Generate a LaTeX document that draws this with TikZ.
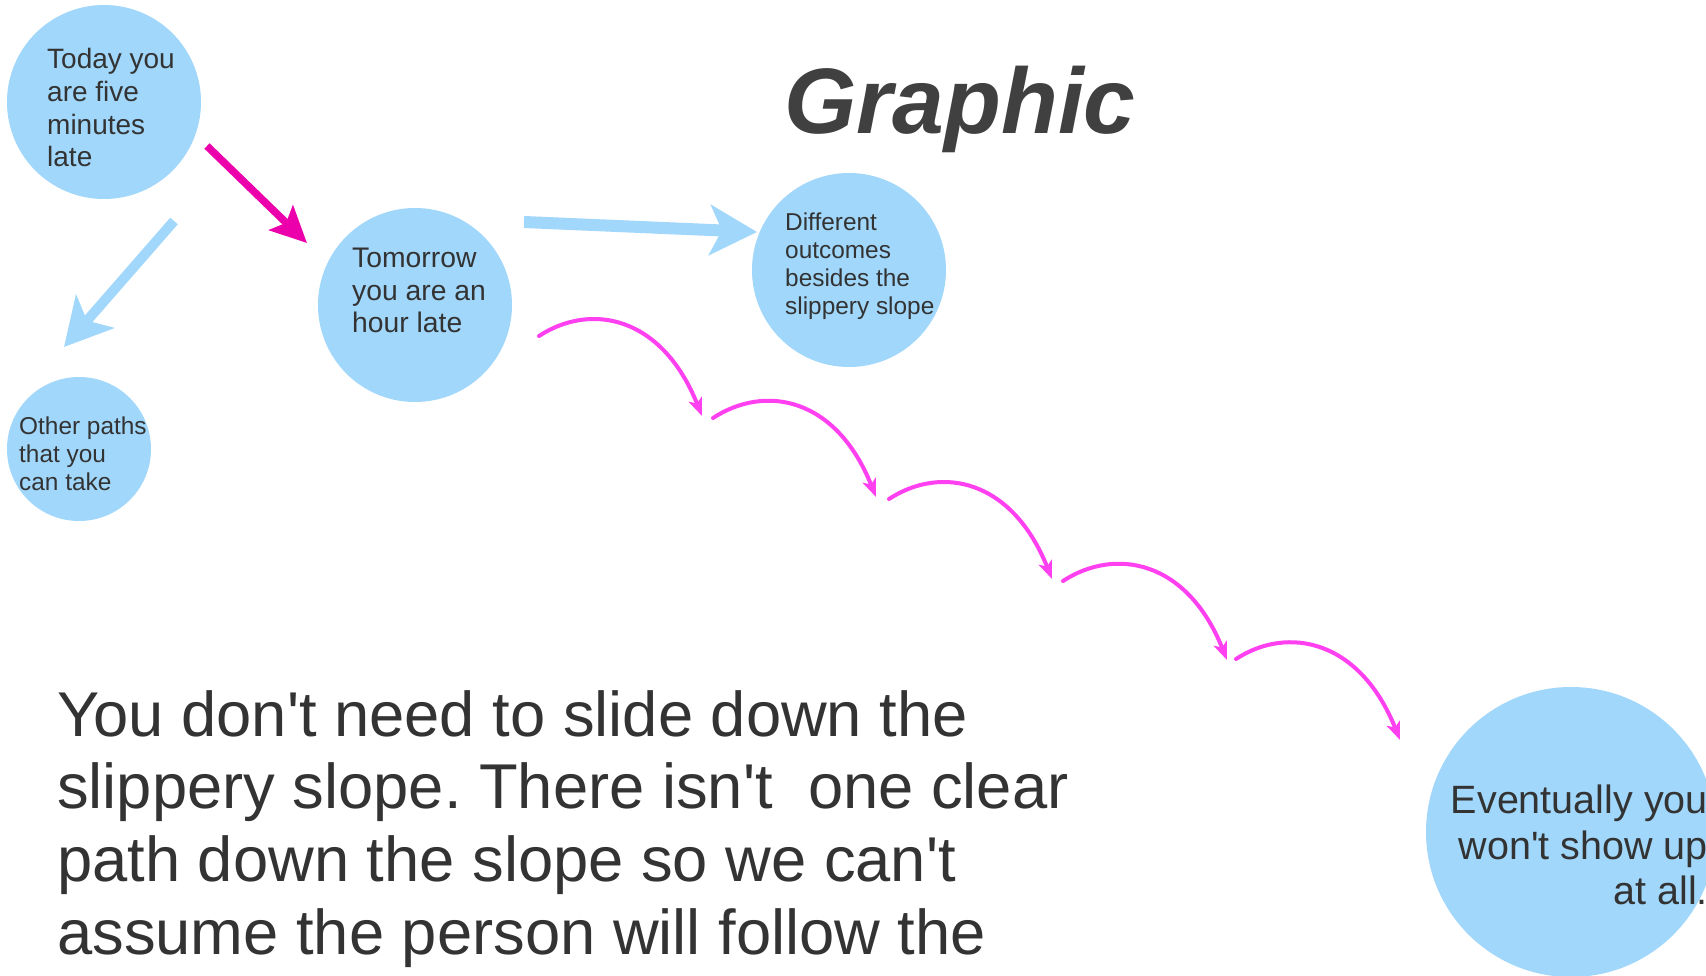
\documentclass[tikz,border=0pt]{standalone}
\usepackage{fontspec}
\setmainfont{Liberation Sans}
\usetikzlibrary{arrows.meta}
\definecolor{bub}{RGB}{160,215,251}
\definecolor{txt}{RGB}{51,51,51}
\definecolor{ttl}{RGB}{64,64,64}
\definecolor{mag}{RGB}{236,0,172}
\definecolor{hopc}{RGB}{255,64,240}
\newcommand{\ap}{\textquotesingle}
\begin{document}
\frenchspacing
\begin{tikzpicture}[x=1pt,y=-1pt,
  bubble/.style={circle, fill=bub, draw=none, inner sep=0pt, minimum size=#1},
  ctext/.style={anchor=north west, inner sep=0pt, align=left, text=txt},
  hop/.style={draw=hopc, line width=4pt, line cap=round,
    -{Stealth[length=18pt,width=14pt,inset=4.5pt]}},
  bluearrow/.style={draw=bub, line width=#1,
    -{Stealth[length=47pt,width=50pt,inset=12pt]}},
  magarrow/.style={draw=mag, line width=7.5pt,
    -{Stealth[length=36pt,width=34pt,inset=7pt]}}
]
\useasboundingbox (0,0) rectangle (1706,975);
\fill[white] (0,0) rectangle (1706,975);

% circles
\node[bubble=194pt] (today) at (104,102) {};
\node[bubble=194pt] (tomorrow) at (415,305) {};
\node[bubble=144pt] (other) at (79,449) {};
\node[bubble=194pt] (diff) at (849,270) {};
\node[bubble=290pt] (event) at (1571,832) {};

% texts
\node[ctext, font=\fontsize{28}{32.6}\selectfont] (todayt) at (47,48.5)
  {Today you\\are five\\minutes\\late};
\node[ctext, font=\fontsize{28.3}{32.5}\selectfont] (tomt) at (352,248)
  {Tomorrow\\you are an\\hour late};
\node[ctext, font=\fontsize{24.4}{28.3}\selectfont] (othert) at (19,416.5)
  {Other paths\\that you\\can take};
\node[ctext, font=\fontsize{24.4}{28.2}\selectfont] (difft) at (785,212.5)
  {Different\\outcomes\\besides the\\slippery slope};
\node[anchor=north east, inner sep=0pt, align=right, text=txt,
  font=\fontsize{39.5}{45.7}\selectfont] (eventt) at (1708,784.5)
  {Eventually you\\won\ap t show up\\at all.};
\node[ctext, font=\fontsize{63.3}{72.9}\selectfont] (big) at (57,690)
  {You don\ap t need to slide down the\\slippery slope. There isn\ap t\ \ one clear\\path down the slope so we can\ap t\\assume the person will follow the};
\node[anchor=base west, inner sep=0pt, text=ttl,
  font=\fontsize{93}{100}\selectfont\bfseries\itshape] (title) at (784,133) {Graphic};

% arrow end points
\coordinate (m1s) at (207,146);
\coordinate (m1e) at (307,243);
\coordinate (b1s) at (174,221);
\coordinate (b1e) at (64,347);
\coordinate (b2s) at (524,222);
\coordinate (b2e) at (757,232);

\draw[magarrow] (m1s) -- (m1e);
\draw[bluearrow=10pt] (b1s) -- (b1e);
\draw[bluearrow=12pt] (b2s) -- (b2e);

% hops down the slope
\coordinate (h1s) at (539,336);  \coordinate (h1e) at (702,416);
\coordinate (h2s) at (713,418);  \coordinate (h2e) at (876,497);
\coordinate (h3s) at (889,499);  \coordinate (h3e) at (1052,579);
\coordinate (h4s) at (1063,581); \coordinate (h4e) at (1227,660);
\coordinate (h5s) at (1236,659); \coordinate (h5e) at (1400,740);
\foreach \i in {1,...,5}{
  \draw[hop] (h\i s) .. controls +(52,-34) and +(-40,-100) .. (h\i e);
}
\end{tikzpicture}
\end{document}
